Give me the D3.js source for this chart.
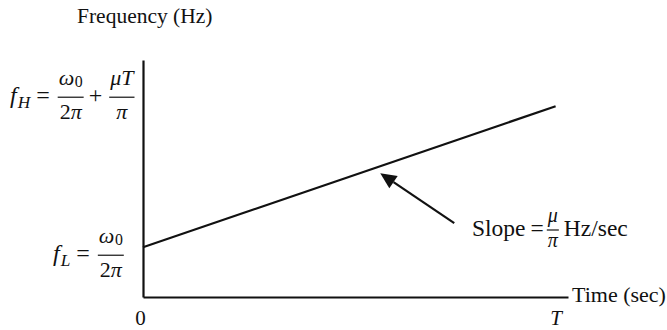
<!DOCTYPE html>
<html>
<head>
<meta charset="utf-8">
<script src="https://cdn.jsdelivr.net/npm/d3@7"></script>
<style>
  body { margin: 0; background: #fff; }
  svg text { font-family: "Liberation Serif", "Times New Roman", serif; fill: #111; }
</style>
</head>
<body>
<svg class="chart"></svg>
<script>
// chirp sketch: frequency rises linearly from fL to fH over [0, T]
const width = 667
const height = 330
const margin = ({top: 60, right: 99, bottom: 33, left: 143})

// data (normalised units)
const timeValues = [0, 1]          // 0 .. T
const freqValues = [0.21, 0.805]   // fL .. fH
const xTickValues = [0, 1]
const xTickLabels = ['0', 'T']
const arrowTime = 0.575            // where the slope arrow points

const svg = d3.select('svg.chart')
  .attr('width', width)
  .attr('height', height)

const x = d3.scaleLinear()
  .domain([0, 1.03])
  .range([margin.left, width - margin.right])

const y = d3.scaleLinear()
  .domain([0, 1])
  .range([height - margin.bottom, margin.top])

// axes: just the domain lines, no ticks
const xAxis = d3.axisBottom(x)
  .tickValues(xTickValues)
  .tickSize(0)
  .tickSizeOuter(0)
  .tickFormat((d, i) => xTickLabels[i])

const xAxisGroup = svg.append('g')
  .attr('transform', `translate(0, ${y(0)})`)
  .call(xAxis)

xAxisGroup.select('.domain').attr('stroke', '#111').attr('stroke-width', 2.2)
xAxisGroup.selectAll('.tick text')
  .attr('y', 28)
  .attr('dy', 0)
  .attr('dx', (d, i) => i === 0 ? -3 : 0)
  .attr('font-size', 21)
  .attr('font-family', '"Liberation Serif", serif')
  .attr('font-style', (d, i) => i === 1 ? 'italic' : 'normal')
  .attr('fill', '#111')

const yAxis = d3.axisLeft(y)
  .tickValues([])
  .tickSizeOuter(0)

const yAxisGroup = svg.append('g')
  .attr('transform', `translate(${x(0)}, 0)`)
  .call(yAxis)
yAxisGroup.select('.domain').attr('stroke', '#111').attr('stroke-width', 2.2)

// the chirp line
const line = d3.line()
  .x((d, i) => x(timeValues[i]))
  .y(d => y(d))

svg.append('path')
  .datum(freqValues)
  .attr('d', line)
  .attr('fill', 'none')
  .attr('stroke', '#111')
  .attr('stroke-width', 2.2)

// axis titles
svg.append('text')
  .attr('x', 77).attr('y', 23)
  .attr('font-size', 21.5)
  .text('Frequency (Hz)')

svg.append('text')
  .attr('x', x.range()[1] + 4).attr('y', y(0) + 5)
  .attr('font-size', 22)
  .text('Time (sec)')

//------------------ little math typesetting helpers ------------------//
// run of glyph pieces laid side by side, returns width
function run(g, x0, base, pieces, size) {
  let cx = x0
  pieces.forEach(p => {
    const fs = p.sub ? size * 0.72 : size
    const t = g.append('text')
      .attr('x', cx)
      .attr('y', base + (p.sub ? size * p.sub : 0))
      .attr('font-size', fs)
      .attr('font-style', p.i ? 'italic' : 'normal')
      .text(p.t)
    cx += t.node().getComputedTextLength() + (p.gap || 0)
  })
  return cx - x0
}

// stacked fraction with a bar, returns width
function frac(g, x0, bar, num, den, size, numOff, denOff) {
  const gn = g.append('g')
  const gd = g.append('g')
  const wn = run(gn, 0, bar - numOff, num, size)
  const wd = run(gd, 0, bar + denOff, den, size)
  const w = Math.max(wn, wd) + 2
  gn.attr('transform', `translate(${x0 + (w - wn) / 2}, 0)`)
  gd.attr('transform', `translate(${x0 + (w - wd) / 2}, 0)`)
  g.append('line')
    .attr('x1', x0).attr('x2', x0 + w)
    .attr('y1', bar).attr('y2', bar)
    .attr('stroke', '#111').attr('stroke-width', 1.2)
  return w
}

function mathLabel(g, x0, bar, items, size, fopt) {
  let cx = x0
  items.forEach(it => {
    if (it.frac) {
      cx += frac(g, cx, bar, it.frac[0], it.frac[1], fopt.size, fopt.num, fopt.den) + (it.gap || 0)
    } else {
      cx += run(g, cx, bar + size * 0.24, it.run, size) + (it.gap || 0)
    }
  })
  return cx - x0
}

const omega0 = [{t: 'ω', i: true, gap: 0.5}, {t: '0', sub: 0.08}]
const twoPi = [{t: '2'}, {t: 'π', i: true}]
const mathOpt = ({size: 22, num: 12, den: 22})

// f_H label
const labelH = svg.append('g')
mathLabel(labelH, 10, y(freqValues[1]) - 9, [
  {run: [{t: 'f', i: true, gap: 1}, {t: 'H', i: true, sub: 0.2, gap: 6}]},
  {run: [{t: '=', gap: 8}]},
  {frac: [omega0, twoPi], gap: 5},
  {run: [{t: '+', gap: 7}]},
  {frac: [[{t: 'μ', i: true}, {t: 'T', i: true}], [{t: 'π', i: true}]]}
], 24, mathOpt)

// f_L label
const labelL = svg.append('g')
mathLabel(labelL, 53, y(freqValues[0]) + 8, [
  {run: [{t: 'f', i: true, gap: 1}, {t: 'L', i: true, sub: 0.2, gap: 6}]},
  {run: [{t: '=', gap: 8}]},
  {frac: [omega0, twoPi]}
], 24, mathOpt)

//------------------ slope annotation ------------------//
const fAt = freqValues[0] + arrowTime * (freqValues[1] - freqValues[0])
const tip = [x(arrowTime), y(fAt) + 7]
const tail = [tip[0] + 74, tip[1] + 50]
const ang = Math.atan2(tail[1] - tip[1], tail[0] - tip[0])
const headLen = 16
const headHalf = 7.5
const base = [tip[0] + headLen * Math.cos(ang), tip[1] + headLen * Math.sin(ang)]

svg.append('line')
  .attr('x1', tail[0]).attr('y1', tail[1])
  .attr('x2', base[0]).attr('y2', base[1])
  .attr('stroke', '#111').attr('stroke-width', 2.2)

svg.append('polygon')
  .attr('points', [
    tip,
    [base[0] - headHalf * Math.sin(ang), base[1] + headHalf * Math.cos(ang)],
    [base[0] + headHalf * Math.sin(ang), base[1] - headHalf * Math.cos(ang)]
  ].map(p => p.join(',')).join(' '))
  .attr('fill', '#111')

const slopeLabel = svg.append('g')
mathLabel(slopeLabel, 472, 230, [
  {run: [{t: 'Slope', gap: 5}, {t: '=', gap: 3}]},
  {frac: [[{t: 'μ', i: true}], [{t: 'π', i: true}]], gap: 5},
  {run: [{t: 'Hz/sec'}]}
], 23.5, ({size: 20, num: 8, den: 17}))
</script>
</body>
</html>
